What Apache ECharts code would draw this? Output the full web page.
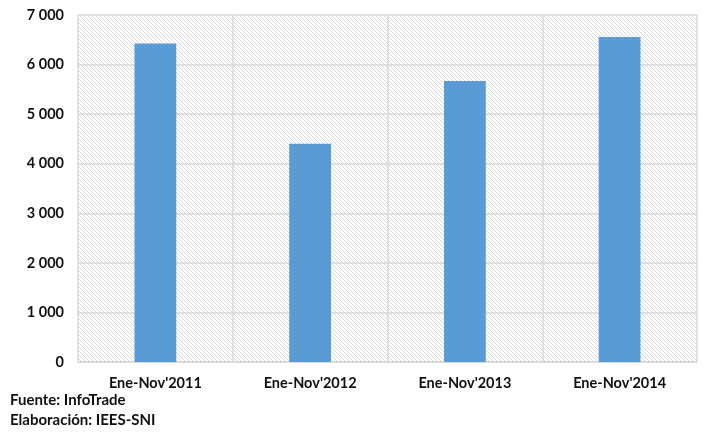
<!DOCTYPE html>
<html><head><meta charset="utf-8">
<script src="https://cdn.jsdelivr.net/npm/echarts@6/dist/echarts.min.js"></script>
<style>html,body{margin:0;padding:0;background:#fff}#c{width:703px;height:432px}</style>
</head><body><div id="c"></div>
<script>
var categories = ["Ene-Nov'2011", "Ene-Nov'2012", "Ene-Nov'2013", "Ene-Nov'2014"];
var values = [6425, 4405, 5670, 6555];
var notes = ["Fuente: InfoTrade", "Elaboración: IEES-SNI"];

var cv = document.createElement('canvas');
cv.width = 4; cv.height = 4;
var g = cv.getContext('2d');
g.fillStyle = '#ffffff'; g.fillRect(0,0,4,4);
g.strokeStyle = '#cfcfcf'; g.lineWidth = 0.8;
g.beginPath();
g.moveTo(-1,-1); g.lineTo(5,5);
g.moveTo(-1,3); g.lineTo(1,5);
g.moveTo(3,-1); g.lineTo(5,1);
g.stroke();

var chart = echarts.init(document.getElementById('c'));
var font = 'Lato, "Open Sans", sans-serif';
chart.setOption({
  animation: false,
  grid: {left: 78, right: 6, top: 15, bottom: 70, show: true, borderWidth: 0,
         backgroundColor: {image: cv, repeat: 'repeat'}},
  xAxis: {
    type: 'category', data: categories,
    axisLine: {lineStyle: {color: '#d9d9d9', width: 1.5}},
    axisTick: {show: false},
    splitLine: {show: true, lineStyle: {color: '#d9d9d9', width: 1.5}},
    axisLabel: {color: '#111', fontWeight: 'bold', fontSize: 14.5, fontFamily: font, margin: 14}
  },
  yAxis: {
    type: 'value', min: 0, max: 7000, interval: 1000,
    axisLine: {show: false}, axisTick: {show: false},
    splitLine: {lineStyle: {color: '#d9d9d9', width: 1.5}},
    axisLabel: {color: '#111', fontWeight: 'bold', fontSize: 14.5, fontFamily: font, margin: 14,
      formatter: function(v){ return String(v).replace(/\B(?=(\d{3})+(?!\d))/g, ' '); }}
  },
  series: [{
    type: 'bar', data: values, barWidth: '27%',
    itemStyle: {color: '#5b9bd5'}
  }],
  graphic: [
    {type: 'text', left: 10, top: 393, style: {text: notes[0], fill: '#111', font: 'bold 15px ' + font}},
    {type: 'text', left: 10, top: 413, style: {text: notes[1], fill: '#111', font: 'bold 15px ' + font}}
  ]
});
</script></body></html>
